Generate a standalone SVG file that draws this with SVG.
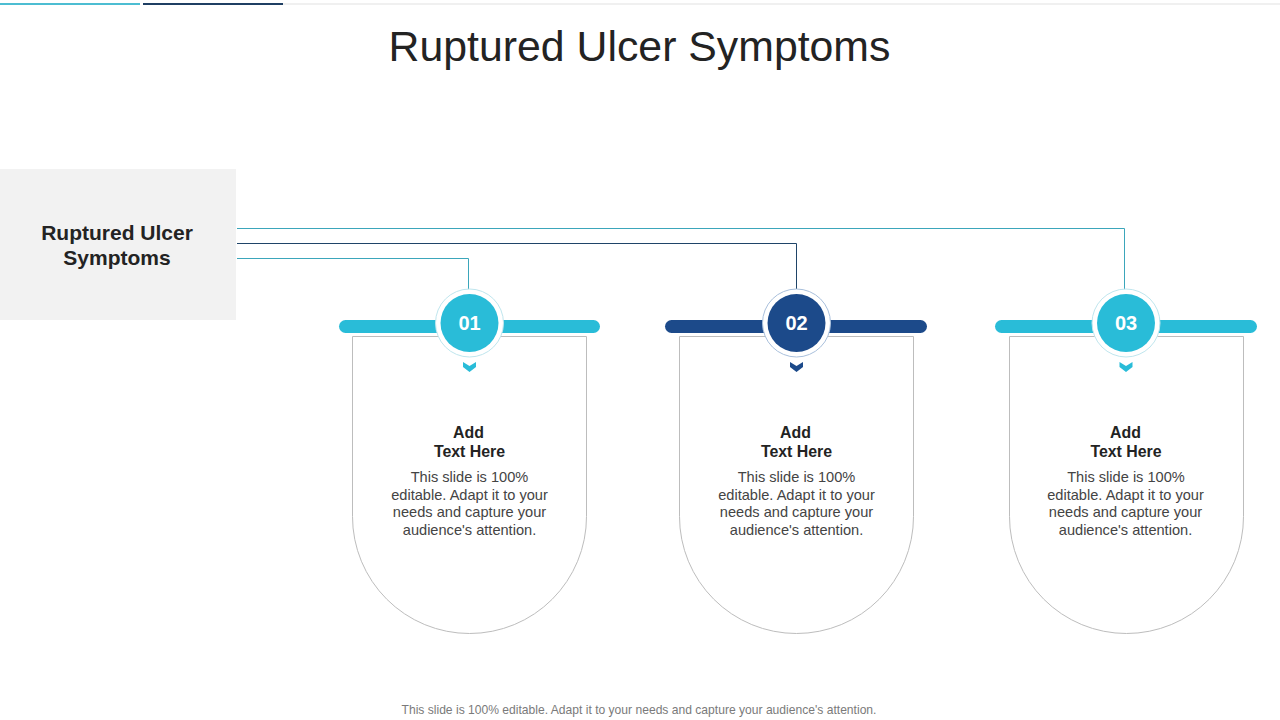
<svg xmlns="http://www.w3.org/2000/svg" width="1280" height="720" viewBox="0 0 1280 720">
<style>
text{font-family:"Liberation Sans",Arial,sans-serif;text-anchor:middle}
.title{font-size:42.800px;fill:#232323}
.head{font-size:21px;font-weight:bold;fill:#232323}
.sub{font-size:15.900px;font-weight:bold;fill:#232323}
.body{font-size:14.600px;fill:#444}
.foot{font-size:12.100px;fill:#7a7a7a}
.num{font-size:20px;font-weight:bold;fill:#fff}
.card{fill:#fff;stroke:#bdbdbd;stroke-width:1}
.ring{fill:#fff;stroke-width:1}
.wire{fill:none;stroke-width:1}
.teal{fill:#29bcd8}.navy{fill:#1c4a8a}
.tealS{stroke:#3ba6bb}.navyS{stroke:#1f4468}
</style>
<defs>
<path id="chev" d="M-6.500 -5L0 -1L6.500 -5V0L0 5L-6.500 0Z"/>
</defs>
<rect x="143" y="3" width="1137" height="2" fill="#f0f0f0"/>
<rect x="0" y="3" width="140" height="2" fill="#4cbdd2"/>
<rect x="143" y="3" width="140" height="2" fill="#1f3f63"/>
<text class="title" x="639.500" y="61">Ruptured Ulcer Symptoms</text>
<g id="root">
<rect x="0" y="169" width="236" height="151" fill="#f2f2f2"/>
<text class="head" x="117" y="240">Ruptured Ulcer</text>
<text class="head" x="117" y="265">Symptoms</text>
</g>
<g id="connectors">
<path class="wire tealS" d="M237 228.500H1124.500V290"/>
<path class="wire navyS" d="M237 243.500H796.500V290"/>
<path class="wire tealS" d="M237 258.500H468.500V290"/>
</g>
<g id="node-01">
<path class="card" d="M352.500 336.500H586.500V516.500A117 117 0 0 1 352.500 516.500Z"/>
<rect class="teal" x="339" y="320" width="261" height="13" rx="6.500"/>
<circle class="ring" cx="469.500" cy="323" r="34" stroke="#bfe6ee"/>
<circle class="teal" cx="469.500" cy="323" r="29"/>
<text class="num" x="469.500" y="330">01</text>
<use href="#chev" class="teal" x="469.500" y="367"/>
<text class="sub" x="468.500" y="438">Add</text>
<text class="sub" x="469.500" y="457">Text Here</text>
<text class="body" x="469.500" y="482">This slide is 100%</text>
<text class="body" x="469.500" y="500">editable. Adapt it to your</text>
<text class="body" x="469.500" y="517">needs and capture your</text>
<text class="body" x="469.500" y="535">audience's attention.</text>
</g>
<g id="node-02">
<path class="card" d="M679.500 336.500H913.500V516.500A117 117 0 0 1 679.500 516.500Z"/>
<rect class="navy" x="665" y="320" width="262" height="13" rx="6.500"/>
<circle class="ring" cx="796.500" cy="323" r="34" stroke="#a9c0dc"/>
<circle class="navy" cx="796.500" cy="323" r="29"/>
<text class="num" x="796.500" y="330">02</text>
<use href="#chev" class="navy" x="796.500" y="367"/>
<text class="sub" x="795.500" y="438">Add</text>
<text class="sub" x="796.500" y="457">Text Here</text>
<text class="body" x="796.500" y="482">This slide is 100%</text>
<text class="body" x="796.500" y="500">editable. Adapt it to your</text>
<text class="body" x="796.500" y="517">needs and capture your</text>
<text class="body" x="796.500" y="535">audience's attention.</text>
</g>
<g id="node-03">
<path class="card" d="M1009.500 336.500H1243.500V516.500A117 117 0 0 1 1009.500 516.500Z"/>
<rect class="teal" x="995" y="320" width="262" height="13" rx="6.500"/>
<circle class="ring" cx="1126" cy="323" r="34" stroke="#bfe6ee"/>
<circle class="teal" cx="1126" cy="323" r="29"/>
<text class="num" x="1126" y="330">03</text>
<use href="#chev" class="teal" x="1126" y="367"/>
<text class="sub" x="1125.500" y="438">Add</text>
<text class="sub" x="1126" y="457">Text Here</text>
<text class="body" x="1126" y="482">This slide is 100%</text>
<text class="body" x="1125.500" y="500">editable. Adapt it to your</text>
<text class="body" x="1125.500" y="517">needs and capture your</text>
<text class="body" x="1125.500" y="535">audience's attention.</text>
</g>
<text class="foot" x="639" y="714">This slide is 100% editable. Adapt it to your needs and capture your audience's attention.</text>
</svg>
